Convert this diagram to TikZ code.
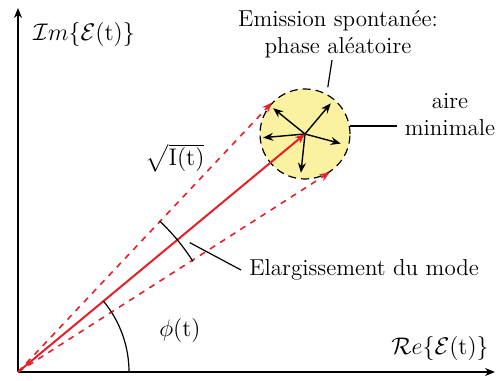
\documentclass[tikz,border=0pt]{standalone}
\usepackage{amsmath,amsfonts}
\usetikzlibrary{arrows.meta,calc}
\definecolor{spotyellow}{RGB}{250,242,160}
\definecolor{fieldred}{RGB}{228,32,40}
\newcommand{\champ}{\mathcal{E}(\mathrm{t})}

\begin{document}
\begin{tikzpicture}[x=0.5pt,y=0.5pt,>={Stealth[length=5pt,width=4pt]},
	lbl/.style={font=\fontsize{11.5}{13.5}\selectfont, inner sep=1pt}]
	\useasboundingbox (0,0) rectangle (497,380);
	\coordinate (O) at (18,8);
	\node[circle, draw, dash pattern=on 4pt off 2.5pt, fill=spotyellow,
		minimum size=45pt, inner sep=0pt, line width=0.6pt] (spot) at (305,246) {};
	% axes
	\draw[->, line width=1pt] (O) -- (18,372) coordinate (ytip);
	\draw[->, line width=1pt] (O) -- (495,8) coordinate (xtip);
	\node[lbl] (im) at (84,345) {$\mathcal{I}m\{\champ\}$};
	\node[lbl] (re) at (440,32) {$\mathcal{R}e\{\champ\}$};
	% random phase
	\foreach \a/\l in {50/40,141/41,185/42,264/39,345/37}
		\draw[->, line width=0.7pt] (spot.center) -- ++(\a:\l);
	% field
	\draw[->, fieldred, line width=1pt] (O) -- (spot.center);
	\draw[->, fieldred, line width=0.8pt, dashed]
		(O) -- (tangent cs:node=spot,point={(O)},solution=2);
	\draw[->, fieldred, line width=0.8pt, dashed]
		(O) -- (tangent cs:node=spot,point={(O)},solution=1);
	% angles
	\draw[line width=0.6pt] (O) ++(0:111) arc (0:39.8:111);
	\draw[line width=0.6pt] (O) ++(32.3:207) arc (32.3:46.8:207);
	\node[lbl] (phi) at (180,50) {$\phi(\mathrm{t})$};
	\node[lbl] (amp) at (175,222) {$\sqrt{\mathrm{I}(\mathrm{t})}$};
	% labels
	\node[lbl, align=center] (emis) at (338,346) {Emission spontan\'ee:\\phase al\'eatoire};
	\node[lbl, align=center] (aire) at (450,265) {aire\\minimale};
	\node[lbl, anchor=west] (elarg) at (247,110) {Elargissement du mode};
	\coordinate (w) at ($(O)+(37:215)$);
	\draw[line width=0.6pt] ($(spot.center)+(64:52)$) -- ([xshift=-3pt]emis.south);
	\draw[line width=0.6pt] (spot.10) -- ([xshift=-3pt]spot.10 -| aire.west);
	\draw[line width=0.6pt] (w) -- ([xshift=-3pt]elarg.west);
\end{tikzpicture}
\end{document}
